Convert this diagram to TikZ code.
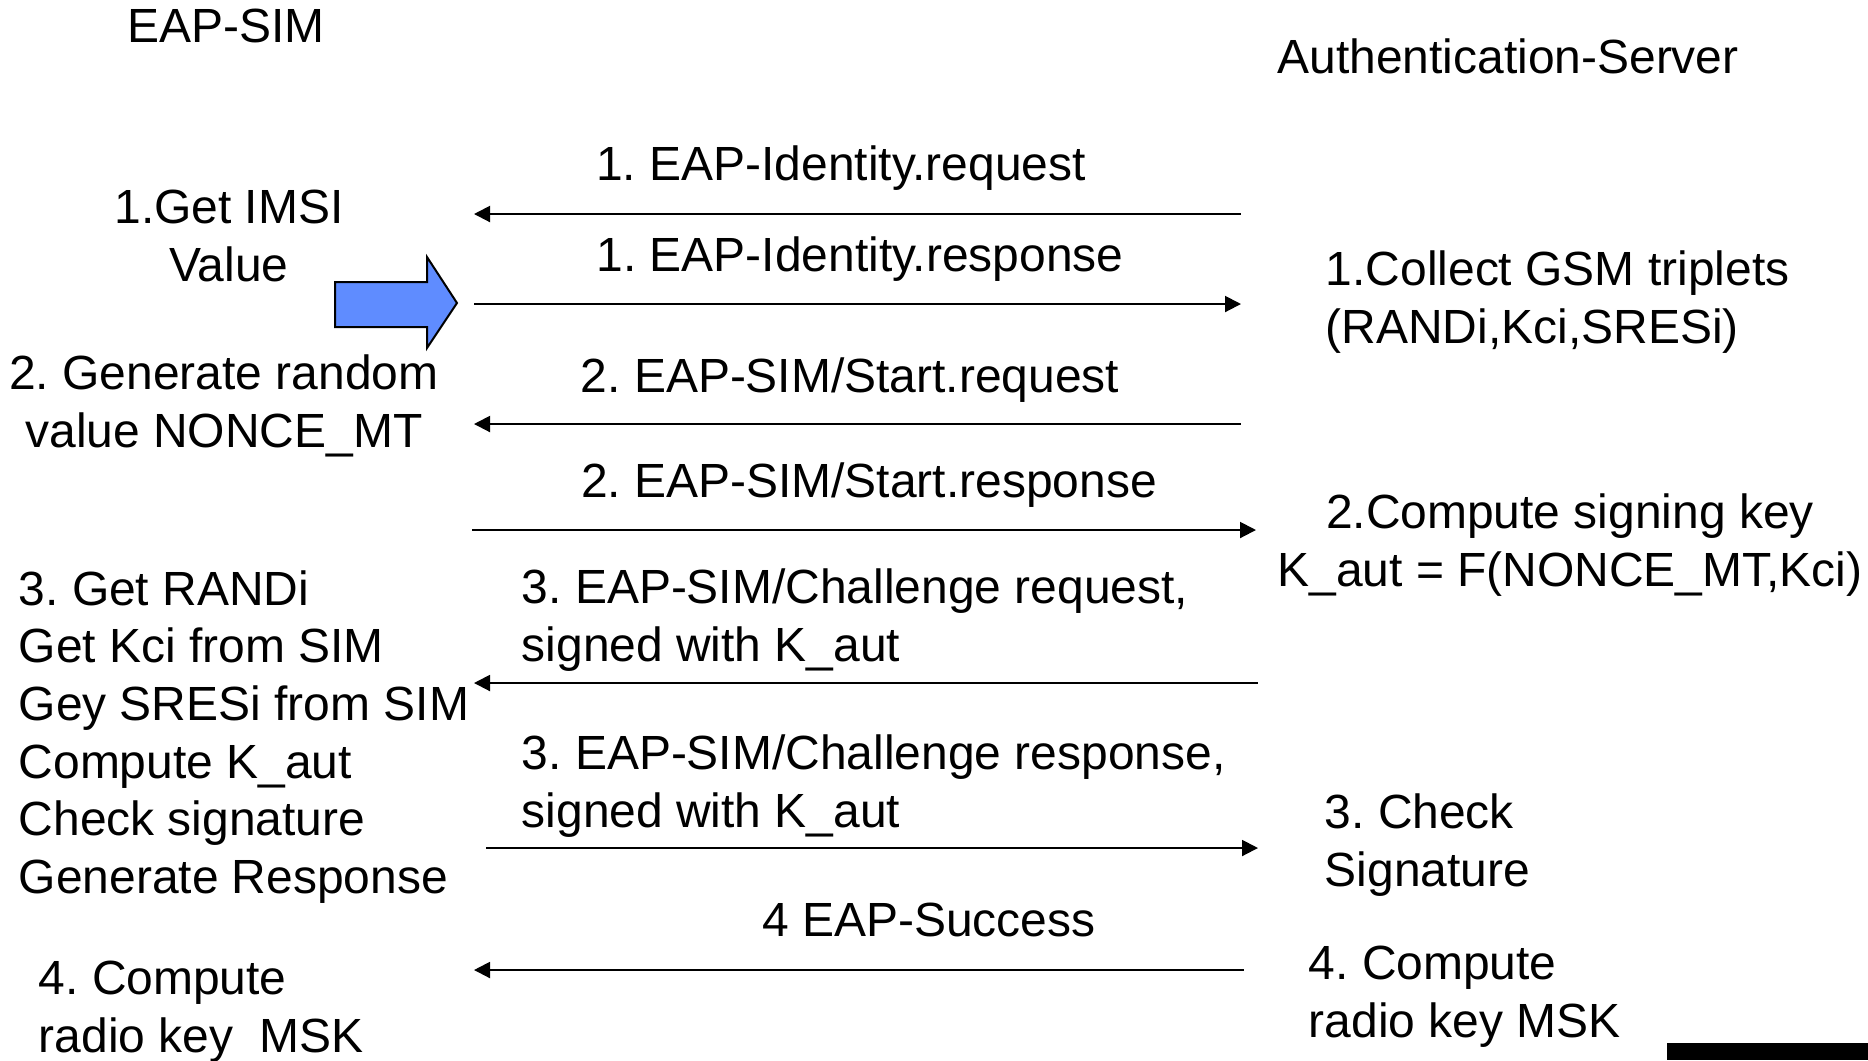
\documentclass[tikz,border=0pt]{standalone}
\usepackage{fontspec}
\setmainfont{Liberation Sans}
\usetikzlibrary{arrows.meta}
\definecolor{arrowblue}{RGB}{95,140,255}
\frenchspacing
\tikzset{
  lbl/.style={inner sep=0pt, font=\fontsize{13.65}{16.4}\selectfont},
  msg/.style={line width=0.2mm},
  >={Triangle[length=1.6mm,width=1.6mm]},
}
\begin{document}
\begin{tikzpicture}[x=0.1mm, y=-0.1mm]
    \useasboundingbox (0,0) rectangle (1868,1060);

    % 見出し
    \node[lbl] (eapsim) at (226,26) {EAP-SIM};
    \node[lbl] (server) at (1508,56) {Authentication-Server};

    % メッセージの端点
    \foreach \n/\y/\xl/\xr in {1/214/474/1241, 2/304/474/1241, 3/424/474/1241, 4/530/472/1256,
                               5/683/474/1258, 6/848/486/1258, 7/970/474/1244}
        {\coordinate (l\n) at (\xl,\y); \coordinate (r\n) at (\xr,\y);}

    % メッセージの矢印
    \foreach \n/\dir in {1/<-, 2/->, 3/<-, 4/->, 5/<-, 6/->, 7/<-}
        \draw[msg, \dir] (l\n) -- (r\n);

    % メッセージのラベル
    \node[lbl] (m1) at (841,168) {1. EAP-Identity.request};
    \node[lbl] (m2) at (860,259) {1. EAP-Identity.response};
    \node[lbl] (m3) at (850,380) {2. EAP-SIM/Start.request};
    \node[lbl] (m4) at (869,485) {2. EAP-SIM/Start.response};
    \node[lbl, anchor=west, align=left] (m5) at (521,620) {3. EAP-SIM/Challenge request,\\signed with K\_aut};
    \node[lbl, anchor=west, align=left] (m6) at (521,786) {3. EAP-SIM/Challenge response,\\signed with K\_aut};
    \node[lbl] (m7) at (929,920) {4 EAP-Success};

    % 端末側の処理
    \node[lbl, align=center] (getimsi) at (229,236) {1.Get IMSI\\Value};
    \node[lbl, align=center] (nonce) at (224,406) {2. Generate random\\value NONCE\_MT};
    \node[lbl, anchor=west, align=left] (sim) at (18,737)
        {3. Get RANDi\\Get Kci from SIM\\Gey SRESi from SIM\\Compute K\_aut\\Check signature\\Generate Response};
    \node[lbl, anchor=west, align=left] (mskL) at (38,1012) {4. Compute\\radio key\ \ MSK};

    % サーバ側の処理
    \node[lbl, anchor=west, align=left] (triplets) at (1325,302) {1.Collect GSM triplets\\(RANDi,Kci,SRESi)};
    \node[lbl, align=center] (kaut) at (1570,545) {2.Compute signing key\\K\_aut = F(NONCE\_MT,Kci)};
    \node[lbl, anchor=west, align=left] (check) at (1324,845) {3. Check\\Signature};
    \node[lbl, anchor=west, align=left] (mskR) at (1308,997) {4. Compute\\radio key MSK};

    % 青い矢印
    \filldraw[fill=arrowblue, draw=black, line width=0.2mm]
        (335,282) -- (427,282) -- (427,257) -- (457,303) -- (427,348) -- (427,327) -- (335,327) -- cycle;

    % 右下の黒い帯
    \fill[black] (1667,1043) rectangle (1868,1060);
\end{tikzpicture}
\end{document}
